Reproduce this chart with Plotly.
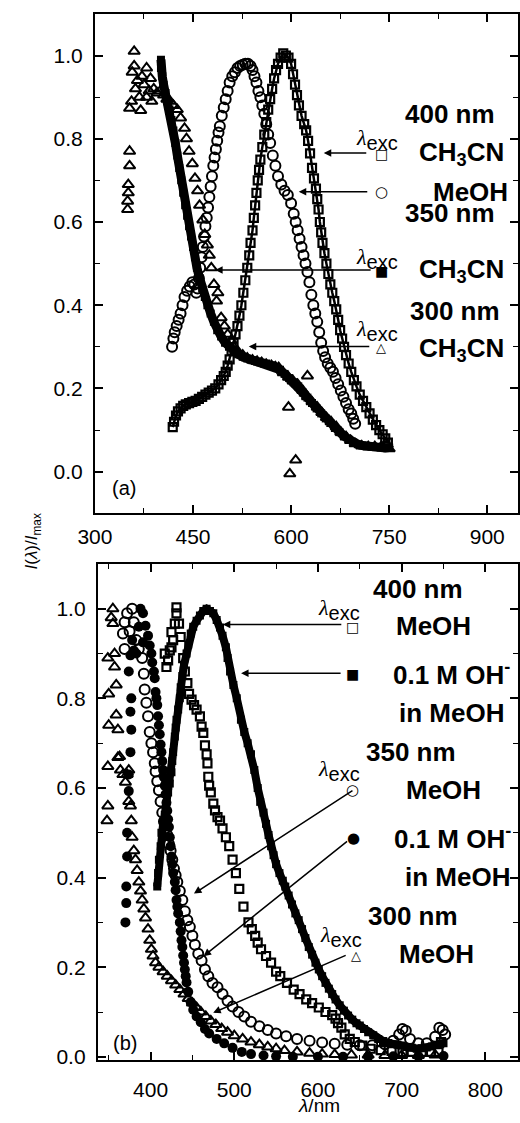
import plotly.graph_objects as go

W, H = 520, 1123

# ---------------- Panel (a) data ----------------
# 300 nm excitation, CH3CN (open triangles)
a_tri_x = [360, 360, 357, 365, 379, 385, 375, 368, 356, 353, 370, 379, 387, 390, 362, 372, 383, 395, 353, 353, 351, 351, 350, 350,
           400, 405, 410, 415, 420, 426, 431, 437, 440, 444, 449, 453, 457, 460, 465, 468, 472, 475, 478, 482,
           486, 488, 493, 498, 503, 508, 512, 518, 526, 533, 541, 548, 555, 562, 570, 576, 581, 588, 596, 603,
           610, 618, 625, 632, 640, 647, 654, 661, 669, 676, 684, 691, 698, 708, 718, 728, 738, 747,
           596, 625, 607, 598, 750]
a_tri_y = [1.01, 0.975, 0.96, 0.94, 0.97, 0.945, 0.93, 0.90, 0.89, 0.873, 0.868, 0.90, 0.89, 0.92, 0.92, 0.95, 0.915, 0.91, 0.77, 0.735, 0.69, 0.67, 0.65, 0.63,
           0.915, 0.905, 0.895, 0.89, 0.88, 0.87, 0.85, 0.825, 0.80, 0.77, 0.74, 0.705, 0.675, 0.64, 0.605, 0.57, 0.545, 0.52, 0.49, 0.45,
           0.41, 0.43, 0.37, 0.35, 0.33, 0.315, 0.30, 0.29, 0.28, 0.273, 0.268, 0.265, 0.262, 0.258, 0.255, 0.252, 0.25, 0.238, 0.227, 0.218,
           0.21, 0.195, 0.18, 0.168, 0.155, 0.142, 0.13, 0.12, 0.108, 0.095, 0.084, 0.075, 0.067, 0.062, 0.06, 0.06, 0.06, 0.065,
           0.155, 0.23, 0.028, -0.005, 0.055]

# 350 nm excitation, CH3CN (filled squares)
a_fsq_x = [401, 401, 403, 405, 408, 411, 414, 417, 420, 423, 426, 429, 432, 435, 438, 441, 444, 447, 450, 453,
           456, 460, 464, 468, 472, 477, 482, 487, 493, 499, 505, 512, 519, 526, 533, 541, 548, 555, 562, 569,
           576, 583, 590, 597, 604, 611, 618, 625, 632, 639, 646, 653, 660, 667, 674, 681, 688, 695, 702, 709,
           716, 723, 730, 737, 744, 750]
a_fsq_y = [0.99, 0.97, 0.95, 0.93, 0.91, 0.89, 0.87, 0.845, 0.82, 0.79, 0.76, 0.73, 0.70, 0.67, 0.64, 0.615, 0.59, 0.565, 0.54, 0.515,
           0.49, 0.465, 0.44, 0.42, 0.40, 0.38, 0.36, 0.34, 0.325, 0.31, 0.30, 0.29, 0.282, 0.276, 0.272, 0.268, 0.265, 0.262, 0.26, 0.256,
           0.252, 0.245, 0.235, 0.225, 0.215, 0.205, 0.19, 0.178, 0.165, 0.152, 0.14, 0.128, 0.117, 0.105, 0.095, 0.085, 0.077, 0.07, 0.066, 0.063,
           0.061, 0.06, 0.059, 0.058, 0.057, 0.058]

# 400 nm excitation, MeOH (open circles)
a_ocirc_x = [418, 420, 422, 425, 428, 431, 434, 437, 441, 445, 449, 452, 455, 457, 459, 461, 463, 465, 467, 469,
             471, 473, 475, 477, 479, 481, 483, 485, 487, 489, 491, 494, 497, 500, 503, 506, 510, 514, 518, 522,
             526, 530, 534, 538, 541, 544, 547, 550, 553, 556, 559, 562, 565, 568, 572, 576, 580, 585, 590, 595,
             600, 604, 607, 610, 613, 616, 619, 622, 625, 628, 631, 634, 637, 640, 643, 646, 649, 652, 656, 660,
             664, 668, 672, 676, 680, 684, 688, 692, 695, 698]
a_ocirc_y = [0.30, 0.32, 0.335, 0.35, 0.365, 0.38, 0.40, 0.42, 0.435, 0.445, 0.455, 0.45, 0.43, 0.44, 0.465, 0.49, 0.515, 0.54, 0.565, 0.59,
             0.61, 0.635, 0.66, 0.685, 0.71, 0.735, 0.755, 0.775, 0.795, 0.815, 0.83, 0.855, 0.875, 0.895, 0.915, 0.935, 0.95, 0.96, 0.97, 0.975,
             0.978, 0.98, 0.98, 0.975, 0.965, 0.95, 0.935, 0.915, 0.90, 0.88, 0.86, 0.835, 0.81, 0.79, 0.76, 0.735, 0.71, 0.69, 0.675, 0.665,
             0.645, 0.62, 0.60, 0.58, 0.56, 0.54, 0.52, 0.50, 0.48, 0.455, 0.425, 0.40, 0.38, 0.36, 0.335, 0.31, 0.29, 0.275, 0.26, 0.25,
             0.24, 0.225, 0.21, 0.195, 0.18, 0.165, 0.15, 0.14, 0.127, 0.115]

# 400 nm excitation, CH3CN (open squares)
a_osq_x = [419, 421, 424, 427, 431, 435, 439, 444, 449, 454, 459, 464, 469, 474, 479, 484, 489, 493, 497, 500,
           503, 506, 509, 512, 515, 518, 521, 524, 527, 530, 533, 536, 538, 541, 543, 545, 547, 549, 551, 553,
           556, 559, 562, 565, 568, 571, 574, 577, 580, 584, 588, 592, 596, 600, 603, 606, 609, 612, 616, 620,
           623, 626, 629, 632, 635, 638, 640, 642, 644, 646, 648, 651, 654, 657, 660, 663, 666, 669, 672, 675,
           678, 681, 684, 688, 692, 696, 700, 705, 710, 715, 720, 725, 730, 735, 740, 744, 748]
a_osq_y = [0.107, 0.12, 0.135, 0.145, 0.152, 0.158, 0.162, 0.165, 0.168, 0.17, 0.175, 0.18, 0.185, 0.19, 0.195, 0.20, 0.21, 0.22, 0.23, 0.24,
           0.255, 0.27, 0.29, 0.31, 0.33, 0.35, 0.375, 0.40, 0.43, 0.46, 0.49, 0.52, 0.55, 0.58, 0.61, 0.64, 0.67, 0.70, 0.725, 0.75,
           0.78, 0.81, 0.84, 0.87, 0.895, 0.92, 0.945, 0.965, 0.98, 0.995, 1.005, 1.0, 0.995, 0.98, 0.955, 0.93, 0.905, 0.88, 0.855, 0.835,
           0.82, 0.795, 0.765, 0.73, 0.705, 0.68, 0.655, 0.63, 0.60, 0.575, 0.55, 0.525, 0.50, 0.475, 0.45, 0.43, 0.41, 0.39, 0.365, 0.34,
           0.32, 0.30, 0.28, 0.26, 0.24, 0.22, 0.205, 0.185, 0.17, 0.155, 0.14, 0.125, 0.112, 0.10, 0.09, 0.08, 0.07]

# ---------------- Panel (b) data ----------------
# 300 nm excitation, MeOH (open triangles)
b_tri_x = [355, 353, 355, 357, 349, 357, 359, 350, 359, 350, 361, 363, 349, 364, 361, 367, 370, 374, 372, 349, 374, 376, 348, 377,
           378, 380, 382, 384, 386, 388, 390, 392, 394, 397, 399, 401, 403, 406, 410, 415, 420, 425, 430, 435,
           440, 445, 450, 455, 460, 466, 472, 478, 485, 492, 500, 510, 520, 530, 540, 550, 560, 575, 590, 605,
           620, 640, 660, 680, 700, 720, 740]
b_tri_y = [1.0, 0.98, 0.967, 0.90, 0.89, 0.87, 0.83, 0.81, 0.763, 0.74, 0.73, 0.67, 0.648, 0.64, 0.668, 0.63, 0.613, 0.64, 0.63, 0.56, 0.57, 0.56, 0.527, 0.527,
           0.49, 0.46, 0.44, 0.416, 0.39, 0.37, 0.35, 0.33, 0.31, 0.285, 0.26, 0.24, 0.225, 0.21, 0.20, 0.19, 0.18, 0.17, 0.16, 0.15,
           0.14, 0.13, 0.12, 0.11, 0.10, 0.09, 0.08, 0.072, 0.063, 0.055, 0.047, 0.04, 0.033, 0.027, 0.022, 0.018, 0.014, 0.011, 0.008, 0.006,
           0.005, 0.004, 0.004, 0.003, 0.003, 0.003, 0.004]

# 350 nm excitation, 0.1 M OH- in MeOH (filled circles)
b_fcirc_x = [370, 371, 371, 372, 372, 374, 374, 376, 377, 376, 377, 374, 376, 378, 380, 383,
             386, 388, 391, 394, 391, 397, 399, 401, 402, 404, 405, 406, 407, 408, 409, 410, 411, 412, 413, 414,
             415, 416, 417, 418, 419, 420, 421, 422, 423, 424, 425, 426, 427, 429, 430, 431, 432, 433, 435, 436,
             437, 438, 439, 440, 441, 442, 443, 445, 448, 451, 455, 460, 465, 470, 479, 488, 498, 509, 520, 535,
             550, 570, 600, 630, 660, 690, 720, 750]
b_fcirc_y = [0.30, 0.343, 0.38, 0.447, 0.50, 0.593, 0.63, 0.68, 0.73, 0.77, 0.80, 0.86, 0.896, 0.93, 0.907, 0.90,
             0.96, 1.0, 0.99, 0.962, 0.925, 0.94, 0.918, 0.90, 0.88, 0.86, 0.845, 0.814, 0.80, 0.785, 0.76, 0.74, 0.72, 0.697, 0.68, 0.66,
             0.64, 0.624, 0.605, 0.586, 0.567, 0.549, 0.53, 0.513, 0.49, 0.47, 0.447, 0.43, 0.41, 0.39, 0.372, 0.35, 0.335, 0.32, 0.30, 0.28,
             0.26, 0.245, 0.226, 0.21, 0.195, 0.18, 0.166, 0.145, 0.122, 0.105, 0.09, 0.077, 0.062, 0.052, 0.04, 0.03, 0.02, 0.011, 0.006, 0.003,
             0.001, 0.0, 0.0, 0.0, 0.0, 0.001, 0.001, 0.002]

# 350 nm excitation, MeOH (open circles)
b_ocirc_x = [378, 372, 369, 367, 369, 375, 380, 383, 386, 390, 392, 393, 395, 397, 399, 401, 403, 405, 406, 408,
             410, 412, 414, 416, 418, 420, 422, 424, 426, 428, 430, 432, 435, 438, 441, 444, 447, 450, 453, 457,
             461, 465, 469, 474, 480, 486, 492, 498, 505, 512, 520, 530, 540, 550, 562, 575, 590, 605, 620, 635,
             650, 665, 680, 690, 697, 701, 705, 710, 720, 730, 740, 745, 749, 752]
b_ocirc_y = [1.0, 0.99, 0.97, 0.945, 0.91, 0.95, 0.97, 0.93, 0.91, 0.89, 0.855, 0.82, 0.79, 0.76, 0.725, 0.70, 0.68, 0.655, 0.637, 0.615,
             0.595, 0.57, 0.545, 0.525, 0.51, 0.495, 0.475, 0.46, 0.44, 0.42, 0.405, 0.39, 0.37, 0.35, 0.325, 0.305, 0.29, 0.27, 0.25, 0.23,
             0.215, 0.195, 0.18, 0.165, 0.155, 0.14, 0.125, 0.112, 0.10, 0.09, 0.078, 0.068, 0.06, 0.052, 0.046, 0.04, 0.036, 0.032, 0.029, 0.027,
             0.026, 0.026, 0.028, 0.036, 0.05, 0.062, 0.058, 0.04, 0.03, 0.03, 0.045, 0.065, 0.06, 0.05]

# 400 nm excitation, MeOH (open squares)
b_osq_x = [431, 431, 429, 425, 434, 436, 417, 419, 423, 425, 421, 427, 439, 441, 444, 446, 449, 452, 455, 459,
           461, 463, 465, 467, 468, 469, 470, 472, 475, 477, 480, 483, 486, 490, 494, 498, 502, 506, 511, 517,
           521, 525, 528, 532, 538, 544, 550, 555, 563, 571, 578, 586, 593, 601, 609, 617, 621, 624, 628, 632,
           638, 644, 653, 663, 675, 688, 701, 712, 724, 735, 744, 747]
b_osq_y = [1.003, 0.99, 0.967, 0.948, 0.967, 0.937, 0.90, 0.87, 0.907, 0.914, 0.885, 0.93, 0.89, 0.86, 0.834, 0.81, 0.797, 0.785, 0.775, 0.76,
           0.737, 0.723, 0.695, 0.675, 0.655, 0.625, 0.605, 0.59, 0.565, 0.55, 0.535, 0.527, 0.51, 0.49, 0.47, 0.44, 0.41, 0.375, 0.335, 0.30,
           0.285, 0.27, 0.255, 0.24, 0.225, 0.21, 0.19, 0.18, 0.165, 0.15, 0.14, 0.128, 0.12, 0.11, 0.10, 0.093, 0.085, 0.075, 0.065, 0.05,
           0.04, 0.033, 0.025, 0.018, 0.015, 0.013, 0.011, 0.011, 0.011, 0.011, 0.011, 0.033]

# 400 nm excitation, 0.1 M OH- in MeOH (filled squares)
b_fsq_x = [408, 409, 410, 412, 413, 415, 417, 419, 421, 423, 425, 426, 427, 429, 430, 431, 433, 435, 436, 438,
           440, 443, 445, 448, 451, 455, 459, 463, 467, 471, 475, 479, 483, 486, 490, 492, 495, 499, 503, 508,
           512, 516, 520, 524, 528, 531, 535, 538, 541, 544, 547, 550, 554, 558, 561, 565, 569, 573, 577, 581,
           585, 589, 593, 597, 601, 605, 609, 613, 617, 621, 626, 631, 636, 641, 646, 650, 655, 660, 666, 672,
           678, 684, 690, 695, 700, 706, 712, 718, 724, 730, 736, 742, 746, 750]
b_fsq_y = [0.38, 0.41, 0.44, 0.47, 0.50, 0.52, 0.54, 0.565, 0.59, 0.61, 0.635, 0.66, 0.68, 0.715, 0.735, 0.752, 0.775, 0.80, 0.825, 0.85,
           0.875, 0.90, 0.92, 0.945, 0.96, 0.973, 0.985, 0.995, 1.0, 0.995, 0.99, 0.975, 0.958, 0.94, 0.914, 0.89, 0.86, 0.83, 0.80, 0.752,
           0.725, 0.70, 0.675, 0.64, 0.60, 0.569, 0.545, 0.52, 0.495, 0.47, 0.45, 0.43, 0.41, 0.393, 0.38, 0.36, 0.34, 0.32, 0.305, 0.285,
           0.265, 0.245, 0.228, 0.21, 0.195, 0.18, 0.165, 0.152, 0.14, 0.128, 0.115, 0.103, 0.092, 0.083, 0.075, 0.07, 0.062, 0.055, 0.048, 0.04,
           0.035, 0.031, 0.028, 0.027, 0.025, 0.022, 0.02, 0.018, 0.019, 0.021, 0.023, 0.026, 0.028, 0.03]

# tick values
a_xticks = [300, 450, 600, 750, 900]
b_xticks = [400, 500, 600, 700, 800]
yticks = [0.0, 0.2, 0.4, 0.6, 0.8, 1.0]

SANS = "Liberation Sans"
SERIF = "Liberation Serif"

fig = go.Figure()

def mk(x, y, sym, size, xa, ya, lw=1.4, mode="markers", line_w=0):
    tr = dict(x=x, y=y, mode=mode, xaxis=xa, yaxis=ya, showlegend=False, hoverinfo="skip",
              marker=dict(symbol=sym, size=size, color="black", line=dict(color="black", width=lw)))
    if "lines" in mode:
        tr["line"] = dict(color="black", width=line_w)
    fig.add_trace(go.Scatter(**tr))

# panel (a)
mk(a_fsq_x, a_fsq_y, "square", 8, "x", "y", lw=0, mode="lines+markers", line_w=9)
mk(a_tri_x, a_tri_y, "triangle-up-open", 10, "x", "y", lw=2)
mk(a_osq_x, a_osq_y, "square-open", 8, "x", "y", lw=2.2, mode="lines+markers", line_w=2.5)
mk(a_ocirc_x, a_ocirc_y, "circle-open", 10, "x", "y", lw=2)
# panel (b)
mk(b_tri_x, b_tri_y, "triangle-up-open", 10, "x2", "y2", lw=2)
mk(b_fcirc_x, b_fcirc_y, "circle", 10, "x2", "y2", lw=0)
mk(b_ocirc_x, b_ocirc_y, "circle-open", 10, "x2", "y2", lw=2)
mk(b_osq_x, b_osq_y, "square-open", 8, "x2", "y2", lw=2.2)
mk(b_fsq_x, b_fsq_y, "square", 8, "x2", "y2", lw=0, mode="lines+markers", line_w=8)

def px2paper(px, py):
    return px / W, 1 - py / H

ann = []

def txt(s, px, py, size, family=SANS, bold=False, angle=0, xanchor="center"):
    x, y = px2paper(px, py)
    ann.append(dict(text=("<b>%s</b>" % s) if bold else s, x=x, y=y, xref="paper", yref="paper",
                    xanchor=xanchor, yanchor="middle", showarrow=False, textangle=angle,
                    font=dict(family=family, size=size, color="black")))

def arrow(hx, hy, tx, ty):
    x, y = px2paper(hx, hy)
    ann.append(dict(text="", x=x, y=y, xref="paper", yref="paper", ax=tx - hx, ay=ty - hy,
                    showarrow=True, arrowhead=2, arrowsize=1, arrowwidth=1.5, arrowcolor="black",
                    standoff=0, startstandoff=0))

LAM = ("<span style='font-family:Liberation Serif'><i>λ</i></span>"
       "<sub><span style='font-size:20px'>exc</span></sub>")

def lam(px, py):
    # px = left edge of the lambda glyph
    txt(LAM, px, py, 22, xanchor="left")

SYM = "DejaVu Sans"
# panel (a) labels
BS = 26
lam(349, 141)
txt("400 nm", 449, 115, BS, bold=True)
txt("CH<sub>3</sub>CN", 461, 155, BS, bold=True)
txt("□", 378, 155, 14, family=SYM)
txt("○", 378, 193, 15, family=SYM)
txt("MeOH", 471, 193, BS, bold=True)
txt("350 nm", 449, 215, BS, bold=True)
lam(349, 260)
txt("■", 378, 273, 14, family=SYM)
txt("CH<sub>3</sub>CN", 461, 272, BS, bold=True)
txt("300 nm", 454, 313, BS, bold=True)
lam(349, 333)
txt("△", 378, 350, 13, family=SYM)
txt("CH<sub>3</sub>CN", 461, 352, BS, bold=True)
txt("(a)", 110, 492, 20)
arrow(318, 154, 362, 154)
arrow(292, 193, 362, 193)
arrow(205, 272, 362, 272)
arrow(240, 349, 362, 349)

# panel (b) labels
lam(310, 614)
txt("400 nm", 416, 593, BS, bold=True)
txt("□", 348, 631, 14, family=SYM)
txt("MeOH", 432, 630, BS, bold=True)
txt("■", 348, 679, 14, family=SYM)
txt("0.1 M OH<sup>-</sup>", 451, 678, BS, bold=True)
txt("in MeOH", 451, 718, BS, bold=True)
txt("350 nm", 409, 757, BS, bold=True)
lam(310, 776)
txt("○", 348, 796, 15, family=SYM)
txt("MeOH", 442, 796, BS, bold=True)
txt("●", 349, 844, 15, family=SYM)
txt("0.1 M OH<sup>-</sup>", 452, 844, BS, bold=True)
txt("in MeOH", 457, 883, BS, bold=True)
txt("300 nm", 411, 923, BS, bold=True)
lam(312, 943)
txt("△", 351, 962, 13, family=SYM)
txt("MeOH", 435, 961, BS, bold=True)
txt("(b)", 111, 1050, 20)
arrow(213, 629, 333, 629)
arrow(232, 678, 333, 678)
arrow(183, 900, 343, 796)
arrow(193, 963, 338, 847)
arrow(203, 1020, 337, 962)

# axis titles
txt("<i>I</i>(<i>λ</i>)/<i>I</i><sub>max</sub>", 16, 545, 17, angle=-90)
txt("<i>λ</i>/nm", 313, 1113, 19)

axis_common = dict(showline=True, linecolor="black", linewidth=2, mirror="allticks",
                   ticks="inside", ticklen=8, tickwidth=1.6, tickcolor="black",
                   showgrid=False, zeroline=False,
                   tickfont=dict(family=SANS, size=21, color="black"))

fig.update_layout(
    width=W, height=H, margin=dict(l=0, r=0, t=0, b=0),
    paper_bgcolor="white", plot_bgcolor="white", showlegend=False,
    xaxis=dict(domain=[80 / W, 1.0], range=[300, 947], tickvals=a_xticks, anchor="y",
               minor=dict(dtick=75, tick0=300, ticks="inside", ticklen=5, tickwidth=1.4, tickcolor="black"),
               ticklabelstandoff=3, **axis_common),
    yaxis=dict(domain=[1 - 517 / H, 1 - 14 / H], range=[-0.1, 1.1], tickvals=yticks, tickformat=".1f", anchor="x",
               minor=dict(dtick=0.1, tick0=0, ticks="inside", ticklen=5, tickwidth=1.4, tickcolor="black"),
               ticklabelstandoff=6, **axis_common),
    xaxis2=dict(domain=[83 / W, 1.0], range=[337, 839], tickvals=b_xticks, anchor="y2",
                minor=dict(dtick=50, tick0=400, ticks="inside", ticklen=5, tickwidth=1.4, tickcolor="black"),
                ticklabelstandoff=9, **axis_common),
    yaxis2=dict(domain=[1 - 1068 / H, 1 - 568 / H], range=[-0.008, 1.1], tickvals=yticks, tickformat=".1f", anchor="x2",
                minor=dict(dtick=0.1, tick0=0, ticks="inside", ticklen=5, tickwidth=1.4, tickcolor="black"),
                ticklabelstandoff=6, **axis_common),
    annotations=ann,
)

fig.write_html("out.html")
